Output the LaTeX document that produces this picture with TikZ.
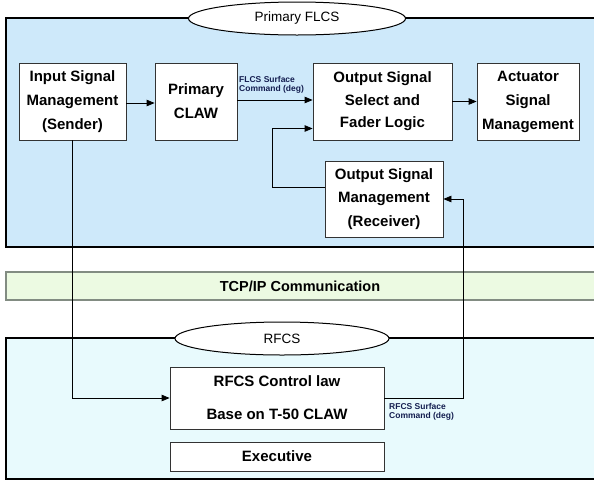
\documentclass[tikz,border=0pt]{standalone}
\usepackage{fontspec}
\setmainfont{Liberation Sans}
\usetikzlibrary{shapes.geometric,arrows.meta,calc}
\definecolor{topfill}{RGB}{206,233,250}
\definecolor{botfill}{RGB}{232,250,253}
\definecolor{tcpfill}{RGB}{236,250,226}
\definecolor{tcpline}{RGB}{130,140,130}
\definecolor{lblcol}{RGB}{20,30,80}
\tikzset{
  blk/.style={draw=black!80, line width=0.8pt, fill=white, inner sep=0pt, align=center,
    font=\fontsize{15}{24}\selectfont\bfseries},
  regionttl/.style={ellipse, draw=black, line width=1pt, fill=white, inner sep=0pt,
    font=\fontsize{13.5}{15}\selectfont},
  arr/.style={line width=0.8pt, -{Triangle[length=8pt,width=6.5pt]}},
  lbl/.style={font=\fontsize{8.5}{9}\selectfont\bfseries, text=lblcol, align=left, inner sep=0pt, anchor=north west}
}
\begin{document}
\begin{tikzpicture}[x=1pt,y=-1pt]
\useasboundingbox (0,0) rectangle (594,483);
% regions
\fill[topfill] (6,18) rectangle (600,247);
\draw[line width=1.2pt] (600,18) -- (6,18) -- (6,247) -- (600,247);
\fill[tcpfill] (6,272) rectangle (600,300);
\draw[tcpline, line width=1.2pt] (600,272) -- (6,272) -- (6,300) -- (600,300);
\fill[botfill] (6,338) rectangle (600,479);
\draw[line width=1.2pt] (600,338) -- (6,338) -- (6,479) -- (600,479);
% titles
\node[regionttl, minimum width=217pt, minimum height=33pt] (tflcs) at (297,18.5) {Primary FLCS};
\node[font=\fontsize{14.5}{16}\selectfont\bfseries] (tcp) at (300,286) {TCP/IP Communication};
\node[regionttl, minimum width=214pt, minimum height=33pt] (trfcs) at (282,338.5) {RFCS};
% blocks
\node[blk, minimum width=107pt, minimum height=77pt] (inp) at (72.5,101.5) {Input Signal\\Management\\(Sender)};
\node[blk, minimum width=82pt, minimum height=77pt] (claw) at (196,101.5) {Primary\\CLAW};
\node[blk, minimum width=139pt, minimum height=77pt, font=\fontsize{15}{22.5}\selectfont\bfseries] (out) at (382.5,101.5) {Output Signal\\Select and\\Fader Logic};
\node[blk, minimum width=102pt, minimum height=77pt] (act) at (528,101.5) {Actuator\\Signal\\Management};
\node[blk, minimum width=118pt, minimum height=76pt, font=\fontsize{15}{23.5}\selectfont\bfseries] (recv) at (384,199) {Output Signal\\Management\\(Receiver)};
\node[blk, minimum width=214pt, minimum height=62pt, font=\fontsize{15}{33}\selectfont\bfseries] (rfcs) at (277,398) {RFCS Control law\\Base on T-50 CLAW};
\node[blk, minimum width=214pt, minimum height=29pt] (exec) at (277,456.5) {Executive};
% connectors
\draw[arr] (inp.east |- 0,103) -- (claw.west |- 0,103);
\draw[arr] (claw.east |- 0,100) -- (out.west |- 0,100);
\draw[arr] (out.east) -- (act.west);
\coordinate (fbout) at ($(recv.west)+(0,-12)$);
\coordinate (fbin) at ($(out.west)+(0,27)$);
\draw[arr] (fbout) -- (272,0 |- fbout) |- (fbin);
\draw[arr] (inp.south) |- (rfcs.west);
\draw[arr] (rfcs.east) -- ++(79,0) |- (recv.east);
% labels
\node[lbl] (l1) at (239,76) {FLCS Surface\\Command (deg)};
\node[lbl] (l2) at (389,403) {RFCS Surface\\Command (deg)};
\end{tikzpicture}
\end{document}
